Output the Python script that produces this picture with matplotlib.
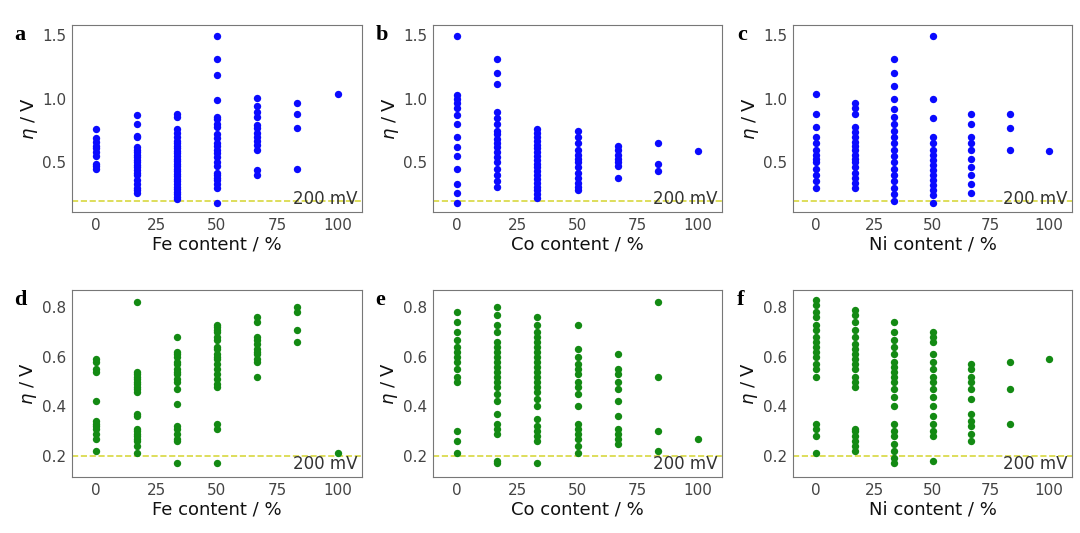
import matplotlib
matplotlib.use('Agg')
import matplotlib.pyplot as plt

content = [0, 16.7, 33.3, 50, 66.7, 83.3, 100]

a_vals = [
    [0.45,0.47,0.49,0.55,0.58,0.61,0.63,0.66,0.69,0.76],
    [0.26,0.28,0.30,0.33,0.36,0.40,0.42,0.44,0.46,0.48,0.50,0.52,0.54,0.56,0.58,0.60,0.62,0.70,0.71,0.80,0.87],
    [0.21,0.23,0.25,0.27,0.29,0.31,0.33,0.35,0.37,0.39,0.41,0.43,0.45,0.47,0.49,0.51,0.53,0.55,0.57,0.59,0.61,0.63,0.65,0.67,0.70,0.73,0.76,0.86,0.88],
    [0.18,0.30,0.33,0.36,0.38,0.40,0.42,0.47,0.50,0.54,0.57,0.60,0.63,0.65,0.69,0.72,0.78,0.80,0.84,0.86,0.99,1.19,1.31,1.49],
    [0.40,0.44,0.60,0.64,0.67,0.70,0.73,0.77,0.79,0.86,0.90,0.94,1.01],
    [0.45,0.77,0.88,0.97],
    [1.04],
]
b_vals = [
    [0.18,0.26,0.33,0.45,0.55,0.62,0.70,0.80,0.87,0.93,0.97,1.00,1.03,1.49],
    [0.31,0.35,0.40,0.45,0.50,0.54,0.58,0.62,0.65,0.68,0.72,0.75,0.80,0.85,0.90,1.12,1.20,1.31],
    [0.22,0.25,0.28,0.31,0.34,0.37,0.40,0.43,0.46,0.49,0.52,0.55,0.58,0.61,0.64,0.67,0.70,0.73,0.76],
    [0.28,0.31,0.34,0.38,0.42,0.46,0.50,0.53,0.56,0.60,0.65,0.70,0.75],
    [0.38,0.47,0.50,0.53,0.56,0.60,0.63],
    [0.43,0.49,0.65],
    [0.59],
]
c_vals = [
    [0.30,0.35,0.40,0.45,0.50,0.53,0.56,0.60,0.65,0.70,0.78,0.88,1.04],
    [0.30,0.34,0.38,0.42,0.46,0.50,0.53,0.56,0.60,0.63,0.66,0.70,0.74,0.78,0.88,0.93,0.97],
    [0.20,0.25,0.30,0.35,0.40,0.45,0.50,0.55,0.60,0.65,0.70,0.75,0.80,0.86,0.92,1.00,1.10,1.20,1.31],
    [0.18,0.24,0.28,0.32,0.36,0.40,0.44,0.48,0.52,0.56,0.60,0.65,0.70,0.85,1.00,1.49],
    [0.26,0.33,0.40,0.46,0.53,0.60,0.65,0.70,0.80,0.88],
    [0.60,0.77,0.88],
    [0.59],
]
d_vals = [
    [0.22,0.27,0.29,0.31,0.32,0.33,0.34,0.42,0.54,0.55,0.58,0.59],
    [0.21,0.24,0.26,0.27,0.28,0.29,0.30,0.31,0.36,0.37,0.46,0.47,0.48,0.49,0.50,0.51,0.52,0.53,0.54,0.82],
    [0.17,0.26,0.27,0.29,0.31,0.32,0.41,0.47,0.50,0.51,0.53,0.54,0.55,0.57,0.58,0.60,0.61,0.62,0.68],
    [0.17,0.31,0.33,0.48,0.49,0.51,0.53,0.55,0.57,0.59,0.60,0.61,0.63,0.64,0.67,0.68,0.70,0.71,0.72,0.73],
    [0.52,0.58,0.59,0.61,0.62,0.63,0.65,0.67,0.68,0.74,0.76],
    [0.66,0.71,0.78,0.80],
    [0.21],
]
e_vals = [
    [0.21,0.26,0.30,0.50,0.52,0.55,0.58,0.60,0.62,0.64,0.67,0.70,0.74,0.78],
    [0.17,0.18,0.29,0.31,0.33,0.37,0.42,0.45,0.48,0.50,0.52,0.54,0.56,0.58,0.60,0.62,0.64,0.66,0.70,0.73,0.77,0.80],
    [0.17,0.26,0.28,0.30,0.32,0.35,0.40,0.43,0.46,0.48,0.50,0.52,0.54,0.56,0.58,0.60,0.62,0.64,0.66,0.68,0.70,0.73,0.76],
    [0.21,0.24,0.27,0.29,0.31,0.33,0.40,0.45,0.48,0.50,0.53,0.55,0.57,0.60,0.63,0.73],
    [0.25,0.27,0.29,0.31,0.36,0.42,0.47,0.50,0.53,0.55,0.61],
    [0.22,0.30,0.52,0.82],
    [0.27],
]
f_vals = [
    [0.21,0.28,0.31,0.33,0.52,0.55,0.57,0.60,0.62,0.64,0.66,0.68,0.71,0.73,0.76,0.78,0.81,0.83],
    [0.22,0.24,0.26,0.28,0.30,0.31,0.48,0.50,0.52,0.55,0.57,0.59,0.61,0.63,0.65,0.68,0.71,0.74,0.77,0.79],
    [0.17,0.19,0.22,0.25,0.28,0.30,0.33,0.40,0.44,0.47,0.50,0.52,0.54,0.56,0.58,0.61,0.64,0.67,0.70,0.74],
    [0.18,0.28,0.30,0.33,0.36,0.40,0.44,0.47,0.50,0.52,0.55,0.58,0.61,0.66,0.68,0.70],
    [0.26,0.29,0.32,0.34,0.37,0.43,0.47,0.50,0.52,0.55,0.57],
    [0.33,0.47,0.58],
    [0.59],
]

panels = [('a', a_vals, 'Fe', '#0a0aff'), ('b', b_vals, 'Co', '#0a0aff'), ('c', c_vals, 'Ni', '#0a0aff'),
          ('d', d_vals, 'Fe', '#138a13'), ('e', e_vals, 'Co', '#138a13'), ('f', f_vals, 'Ni', '#138a13')]

fig = plt.figure(figsize=(10.8, 5.33), dpi=100)
W, H = 1080., 533.
lefts = [72, 433, 793]
widths = [290, 289, 279]
for i, (lab, vals, el, col) in enumerate(panels):
    r, c = divmod(i, 3)
    top = 25 if r == 0 else 290
    ax = fig.add_axes([lefts[c] / W, 1 - (top + 187) / H, widths[c] / W, 187 / H])
    for x, ys in zip(content, vals):
        ax.scatter([x] * len(ys), ys, s=28, color=col, zorder=3, linewidths=0)
    ax.axhline(0.2, color='#d8d840', ls='--', lw=1.2, zorder=2)
    ax.set_xlim(-10, 110)
    ax.set_xticks([0, 25, 50, 75, 100])
    if r == 0:
        ax.set_ylim(0.11, 1.58)
        ax.set_yticks([0.5, 1.0, 1.5])
    else:
        ax.set_ylim(0.115, 0.87)
        ax.set_yticks([0.2, 0.4, 0.6, 0.8])
    ax.text(0.985, 0.02, '200 mV', transform=ax.transAxes, ha='right', va='bottom', fontsize=12, color='#333333')
    ax.set_xlabel(el + ' content / %', fontsize=13, color='#111111', labelpad=2)
    ax.set_ylabel(r'$\eta$ / V', fontsize=13, color='#111111', labelpad=2)
    ax.tick_params(labelsize=11, colors='#444444', length=0, pad=4)
    for s in ax.spines.values():
        s.set_color('#777777')
    ax.text(-0.2, 1.0, lab, transform=ax.transAxes, fontsize=16, fontweight='bold',
            family='Liberation Serif', va='top', ha='left')

fig.savefig('out.png', dpi=100)
